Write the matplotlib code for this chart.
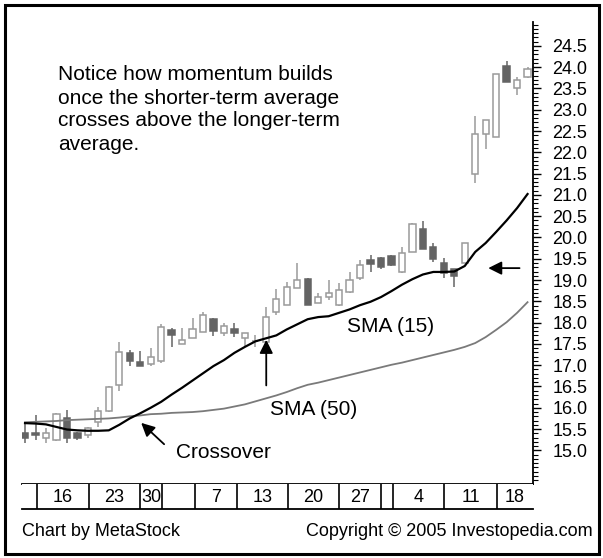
import matplotlib
matplotlib.use("Agg")
import matplotlib.pyplot as plt
from matplotlib.patches import Rectangle
from matplotlib.ticker import MultipleLocator, FixedLocator
import numpy as np

plt.rcParams['font.family'] = ['Liberation Sans', 'DejaVu Sans']

# ---------------- data ----------------
opens = [15.40, 15.40, 15.28, 15.24, 15.77, 15.40, 15.35, 15.66, 15.92, 16.54,
         17.28, 17.08, 17.03, 17.10, 17.83, 17.50, 17.63, 17.79, 18.08, 17.75,
         17.85, 17.63, 17.56, 17.55, 18.26, 18.41, 18.82, 19.02, 18.47, 18.60,
         18.41, 18.71, 19.04, 19.47, 19.51, 19.56, 19.19, 19.66, 20.21, 19.77,
         19.39, 19.27, 19.39, 21.48, 22.42, 22.35, 24.02, 23.52, 23.77]
closes = [15.30, 15.35, 15.40, 15.85, 15.30, 15.28, 15.52, 15.93, 16.49, 17.30,
          17.11, 16.97, 17.20, 17.89, 17.71, 17.59, 17.84, 18.18, 17.81, 17.92,
          17.75, 17.75, 17.57, 18.14, 18.55, 18.84, 19.00, 18.41, 18.60, 18.69,
          18.77, 19.00, 19.35, 19.38, 19.31, 19.35, 19.64, 20.31, 19.74, 19.49,
          19.17, 19.10, 19.88, 22.42, 22.76, 23.85, 23.66, 23.69, 23.95]
highs = [15.64, 15.83, 15.53, 15.88, 15.95, 15.42, 15.55, 16.03, 16.52, 17.55,
         17.36, 17.34, 17.41, 17.97, 17.87, 17.87, 18.10, 18.26, 18.10, 18.00,
         17.98, 17.75, 17.71, 18.37, 18.80, 18.96, 19.41, 19.04, 18.70, 19.00,
         18.94, 19.19, 19.47, 19.59, 19.55, 19.58, 19.78, 20.34, 20.39, 19.88,
         19.51, 19.27, 19.88, 22.85, 22.76, 23.85, 24.15, 23.76, 24.00]
lows = [15.17, 15.24, 15.17, 15.22, 15.17, 15.24, 15.30, 15.56, 15.90, 16.40,
        16.97, 16.97, 16.99, 17.04, 17.43, 17.50, 17.63, 17.79, 17.69, 17.69,
        17.66, 17.43, 17.43, 17.51, 18.18, 18.41, 18.82, 18.41, 18.45, 18.53,
        18.39, 18.69, 19.00, 19.19, 19.27, 19.33, 19.17, 19.66, 19.74, 19.43,
        19.04, 18.83, 19.39, 21.28, 22.07, 22.35, 23.66, 23.34, 23.74]
sma15 = [15.64, 15.63, 15.61, 15.55, 15.49, 15.47, 15.46, 15.46, 15.47, 15.60,
         15.75, 15.87, 16.00, 16.14, 16.31, 16.47, 16.64, 16.81, 16.98, 17.12,
         17.29, 17.43, 17.56, 17.63, 17.70, 17.84, 17.96, 18.08, 18.13, 18.15,
         18.23, 18.31, 18.41, 18.49, 18.60, 18.74, 18.89, 19.02, 19.13, 19.19,
         19.19, 19.20, 19.33, 19.66, 19.87, 20.13, 20.40, 20.69, 21.02]
sma50 = [15.66, 15.67, 15.68, 15.69, 15.71, 15.72, 15.73, 15.74, 15.75, 15.77,
         15.80, 15.82, 15.85, 15.86, 15.88, 15.89, 15.90, 15.92, 15.95, 15.98,
         16.03, 16.08, 16.15, 16.22, 16.29, 16.37, 16.46, 16.54, 16.59, 16.65,
         16.71, 16.77, 16.83, 16.89, 16.95, 17.01, 17.06, 17.12, 17.18, 17.24,
         17.30, 17.36, 17.43, 17.52, 17.66, 17.83, 18.01, 18.23, 18.48]
week_bounds = [1.15, 6.1, 10.95, 13.1, 16.2, 20.25, 25.1, 30.0, 34.0, 35.1, 40.0, 45.1]
week_labels = ["16", "23", "30", "", "7", "13", "20", "27", "", "4", "11", "18"]
price_ticks = [15.0, 15.5, 16.0, 16.5, 17.0, 17.5, 18.0, 18.5, 19.0, 19.5,
               20.0, 20.5, 21.0, 21.5, 22.0, 22.5, 23.0, 23.5, 24.0, 24.5]
note_lines = ["Notice how momentum builds",
              "once the shorter-term average",
              "crosses above the longer-term",
              "average."]

# ---------------- layout ----------------
W, H = 603, 558
fig = plt.figure(figsize=(W / 100, H / 100), dpi=100)


def rect(l, t, r, b):
    return [l / W, 1 - b / H, (r - l) / W, (b - t) / H]


XMIN, XMAX = -0.29, 48.52
ax = fig.add_axes(rect(22, 22, 533, 484))
ax.set_xlim(XMIN, XMAX)
ax.set_ylim(14.21, 25.06)

HOLLOW = '#9a9a9a'
DARK = '#646464'
x = np.arange(len(opens))
for i in x:
    o, c, h, l = opens[i], closes[i], highs[i], lows[i]
    up = c >= o
    col = HOLLOW if up else DARK
    ax.vlines(i, l, h, color=col, lw=1.1, zorder=2)
    bottom = min(o, c)
    height = max(abs(c - o), 0.02)
    ax.add_patch(Rectangle((i - 0.3, bottom), 0.6, height,
                           facecolor='white' if up else DARK,
                           edgecolor=col, lw=1.1, zorder=3))

ax.plot(x, sma50, color='#7a7a7a', lw=1.3, zorder=4)
ax.plot(x, sma15, color='black', lw=1.6, zorder=5)

ax.yaxis.tick_right()
ax.yaxis.set_major_locator(FixedLocator(price_ticks))
ax.yaxis.set_minor_locator(MultipleLocator(0.1))
ax.set_yticklabels([f"{t:.1f}" for t in price_ticks])
ax.tick_params(axis='y', which='major', length=6, width=1, pad=8, labelsize=13)
ax.tick_params(axis='y', which='minor', length=3.5, width=0.8)
ax.set_xticks([])
for s in ['left', 'top']:
    ax.spines[s].set_visible(False)
ax.spines['right'].set_linewidth(1.3)
ax.spines['bottom'].set_linewidth(1.3)

# annotations
arrow = dict(arrowstyle='-|>', color='black', lw=1.3, mutation_scale=20)
ax.annotate('', xy=(10.9, 15.69), xytext=(13.48, 15.10), arrowprops=arrow, zorder=6)
ax.text(14.44, 14.94, 'Crossover', fontsize=15, va='center', ha='left')
ax.annotate('', xy=(23.04, 17.66), xytext=(23.04, 16.46), arrowprops=arrow, zorder=6)
ax.annotate('', xy=(43.98, 19.28), xytext=(47.5, 19.28), arrowprops=arrow, zorder=6)
ax.text(30.8, 17.92, 'SMA (15)', fontsize=15, va='center', ha='left')
ax.text(23.4, 15.95, 'SMA (50)', fontsize=15, va='center', ha='left')

# date row
ax2 = fig.add_axes(rect(22, 484, 533, 509))
ax2.set_xlim(XMIN, XMAX)
ax2.set_ylim(0, 1)
ax2.set_xticks([])
ax2.set_yticks([])
for s in ['left', 'top', 'right']:
    ax2.spines[s].set_visible(False)
ax2.spines['bottom'].set_linewidth(1.3)
ax2.vlines(week_bounds, 0, 1, color='black', lw=1.2)
edges = week_bounds + [XMAX]
for k, lab in enumerate(week_labels):
    ax2.text((edges[k] + edges[k + 1]) / 2, 0.47, lab, fontsize=13,
             ha='center', va='center')

# note text
for k, line in enumerate(note_lines):
    fig.text(58 / W, 1 - (75 + 23 * k) / H, line, fontsize=15, va='center', ha='left')

# footer
fig.text(22 / W, 1 - 532 / H, 'Chart by MetaStock', fontsize=13, va='center', ha='left')
fig.text(593 / W, 1 - 532 / H, 'Copyright \u00a9 2005 Investopedia.com', fontsize=13,
         va='center', ha='right')

# outer frame
fig.add_artist(Rectangle((4.5 / W, 4.5 / H), (W - 9) / W, (H - 9) / H,
                         transform=fig.transFigure, fill=False, lw=2.2, ec='black'))

fig.savefig('out.png', dpi=100)
